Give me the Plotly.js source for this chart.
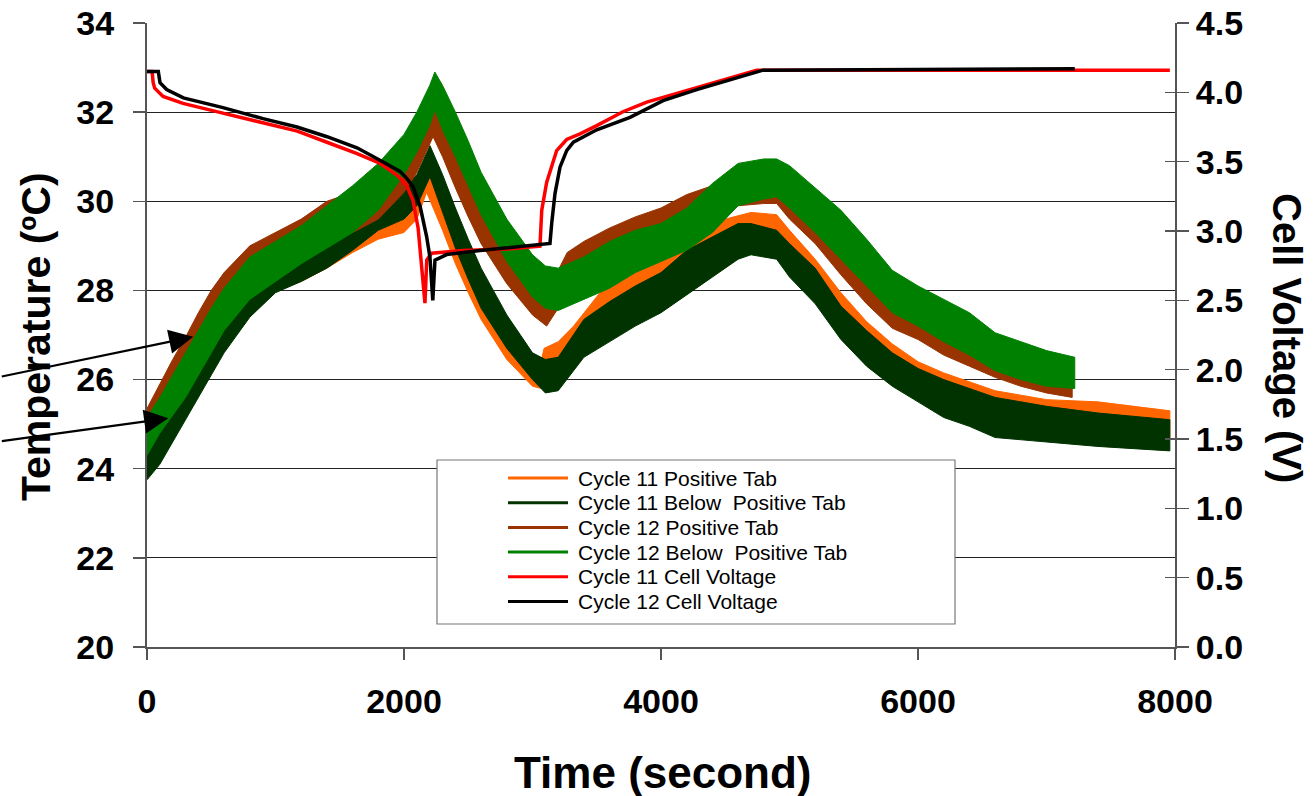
<!DOCTYPE html>
<html>
<head>
<meta charset="utf-8">
<script src="https://cdn.plot.ly/plotly-3.0.1.min.js"></script>
<style>
  html, body { margin: 0; padding: 0; background: #ffffff; }
  #chart { width: 1313px; height: 796px; }
</style>
</head>
<body>
<div id="chart"></div>
<script>
// ---- Series names ----
const seriesNames = [
  'Cycle 11 Positive Tab',
  'Cycle 11 Below  Positive Tab',
  'Cycle 12 Positive Tab',
  'Cycle 12 Below  Positive Tab',
  'Cycle 11 Cell Voltage',
  'Cycle 12 Cell Voltage'
];

// ---- Temperature traces: time (s), lower and upper edge of the noisy band (°C) ----
const c11TabTime = [0,100,200,300,400,500,600,800,1000,1200,1400,1600,1800,2000,2100,2176,2300,2400,2500,2600,2800,3000,3070,3090,3200,3320,3525,3780,4045,4300,4500,4700,4900,5000,5200,5400,5600,5800,6000,6200,6400,6600,6800,7000,7400,7960];
const c11TabLow  = [24.6,25.05,25.5,26.0,26.4,26.85,27.2,27.6,28.0,28.2,28.5,28.85,29.15,29.3,29.6,30.2,29.35,28.6,27.95,27.35,26.45,25.85,25.8,26.2,26.35,26.6,27.2,27.65,28.1,28.65,28.95,29.1,29.05,28.6,27.95,27.2,26.55,26.05,25.75,25.4,25.2,25.05,24.95,24.9,24.8,24.7];
const c11TabHigh = [25.3,25.85,26.35,26.85,27.25,27.65,27.95,28.2,28.4,28.75,29.15,29.55,29.85,29.95,30.3,30.75,30.0,29.3,28.65,28.05,27.15,26.55,26.45,26.7,26.85,27.2,27.95,28.4,28.85,29.35,29.6,29.75,29.7,29.35,28.7,27.95,27.3,26.8,26.4,26.15,25.95,25.75,25.65,25.55,25.5,25.3];

const c11BelowTime = [0,100,200,300,400,500,600,800,1000,1200,1400,1600,1800,2000,2100,2202,2300,2400,2500,2600,2800,3000,3100,3200,3400,3600,3800,4000,4200,4400,4600,4700,4900,5000,5200,5400,5600,5800,6000,6200,6400,6600,6800,7000,7400,7960];
const c11BelowLow  = [23.75,24.1,24.6,25.1,25.6,26.1,26.6,27.4,27.95,28.2,28.5,28.9,29.35,29.6,29.9,30.55,29.75,28.95,28.25,27.6,26.7,26.0,25.7,25.75,26.5,26.85,27.2,27.5,27.9,28.3,28.7,28.8,28.7,28.3,27.7,26.9,26.3,25.85,25.5,25.15,24.95,24.7,24.65,24.6,24.5,24.4];
const c11BelowHigh = [24.65,25.0,25.4,25.9,26.4,26.9,27.35,28.1,28.6,29.0,29.35,29.9,30.2,30.3,30.6,31.25,30.6,29.85,29.15,28.5,27.45,26.6,26.45,26.5,27.35,27.75,28.1,28.4,28.9,29.2,29.5,29.5,29.35,29.05,28.5,27.65,27.1,26.6,26.25,26.0,25.8,25.6,25.5,25.4,25.25,25.1];

const c12TabTime = [0,100,200,300,400,500,600,800,1000,1200,1400,1600,1800,2000,2100,2226,2300,2400,2500,2600,2800,3000,3110,3200,3270,3400,3600,3800,4000,4200,4400,4600,4800,4900,5000,5200,5400,5600,5800,6000,6200,6400,6600,6800,7000,7200];
const c12TabLow  = [24.8,25.2,25.6,26.1,26.65,27.15,27.6,28.2,28.5,28.85,29.1,29.3,29.6,30.2,30.65,31.45,31.0,30.3,29.65,29.05,28.15,27.45,27.2,27.6,28.1,28.3,28.7,28.9,29.05,29.3,29.5,29.9,29.95,29.95,29.6,29.05,28.35,27.7,27.15,26.9,26.55,26.3,26.05,25.85,25.7,25.6];
const c12TabHigh = [25.35,25.9,26.45,26.95,27.5,28.0,28.4,29.0,29.3,29.6,30.0,30.2,30.6,30.8,31.4,32.1,31.75,31.15,30.55,29.95,29.05,28.35,28.0,28.45,28.85,29.1,29.4,29.65,29.85,30.15,30.35,30.7,30.75,30.7,30.35,29.85,29.25,28.6,28.05,27.6,27.35,27.05,26.8,26.65,26.45,26.1];

const c12BelowTime = [0,100,200,300,400,500,600,800,1000,1200,1400,1600,1800,2000,2100,2200,2240,2300,2400,2500,2600,2800,3000,3100,3200,3400,3600,3800,4000,4200,4400,4600,4800,4900,5000,5200,5400,5600,5800,6000,6200,6400,6600,6800,7000,7220];
const c12BelowLow  = [24.3,24.8,25.2,25.6,26.1,26.6,27.1,27.8,28.2,28.6,28.95,29.3,29.8,30.6,31.1,31.7,32.05,31.6,31.0,30.35,29.7,28.65,27.85,27.6,27.55,27.8,28.05,28.4,28.65,28.9,29.3,29.9,30.05,30.1,29.85,29.3,28.7,28.1,27.5,27.2,26.85,26.55,26.2,26.0,25.85,25.8];
const c12BelowHigh = [25.15,25.6,26.1,26.6,27.1,27.6,28.05,28.75,29.1,29.45,29.9,30.35,30.85,31.5,32.0,32.6,32.9,32.6,32.0,31.35,30.65,29.6,28.8,28.55,28.5,28.75,29.1,29.35,29.5,29.85,30.4,30.85,30.95,30.95,30.8,30.3,29.8,29.15,28.45,28.1,27.8,27.5,27.05,26.85,26.65,26.5];

// ---- Cell voltage (V) ----
const c11VoltTime = [0,40,48,60,125,280,590,900,1170,1400,1630,1810,1950,2020,2070,2110,2138,2163,2177,2215,2460,2800,3058,3072,3110,3160,3188,3266,3370,3500,3704,3889,4148,4405,4589,4745,4850,7960];
const c11Volt     = [4.15,4.15,4.07,4.03,3.97,3.92,3.85,3.78,3.72,3.64,3.56,3.49,3.40,3.33,3.22,3.02,2.74,2.48,2.79,2.84,2.86,2.87,2.89,3.15,3.35,3.51,3.58,3.66,3.70,3.76,3.86,3.93,4.00,4.07,4.12,4.16,4.16,4.16];

const c12VoltTime = [0,88,101,153,283,591,903,1167,1401,1634,1813,1969,2021,2070,2125,2176,2202,2224,2241,2280,2332,2591,3058,3136,3150,3175,3214,3266,3318,3500,3759,4016,4278,4537,4794,7220];
const c12Volt     = [4.15,4.15,4.07,4.02,3.96,3.89,3.81,3.75,3.68,3.60,3.51,3.43,3.38,3.32,3.18,2.96,2.81,2.50,2.79,2.81,2.83,2.86,2.90,2.91,3.06,3.27,3.46,3.58,3.64,3.73,3.82,3.94,4.02,4.09,4.16,4.17];

// ---- Arrow targets (time, °C) ----
const arrowTime = [360, 166];
const arrowTemp = [26.96, 25.13];

// ---- Axis ticks ----
const tempTicks = [20, 22, 24, 26, 28, 30, 32, 34];
const voltTicks = [0, 0.5, 1.0, 1.5, 2.0, 2.5, 3.0, 3.5, 4.0, 4.5];
const timeTicks = [0, 2000, 4000, 6000, 8000];

const colors = ['#FF6600', '#003300', '#993300', '#008000', '#FF0000', '#000000'];

// A noisy temperature record is drawn as the band between its lower and upper edge
function band(t, lo, hi, color) {
  const x = t.concat(t.slice().reverse());
  const y = hi.concat(lo.slice().reverse());
  return {
    x: x, y: y, type: 'scatter', mode: 'lines', fill: 'toself',
    fillcolor: color, line: { color: color, width: 1 },
    hoverinfo: 'skip', showlegend: false, xaxis: 'x', yaxis: 'y'
  };
}

function voltLine(t, v, color) {
  return {
    x: t, y: v, type: 'scatter', mode: 'lines',
    line: { color: color, width: 3.5 },
    showlegend: false, xaxis: 'x', yaxis: 'y2'
  };
}

const traces = [
  band(c11TabTime, c11TabLow, c11TabHigh, colors[0]),
  band(c11BelowTime, c11BelowLow, c11BelowHigh, colors[1]),
  band(c12TabTime, c12TabLow, c12TabHigh, colors[2]),
  band(c12BelowTime, c12BelowLow, c12BelowHigh, colors[3]),
  voltLine(c11VoltTime, c11Volt, colors[4]),
  voltLine(c12VoltTime, c12Volt, colors[5])
];

// ---- Plot frame (pixels) ----
const W = 1313, H = 796;
const M = { l: 147, r: 138, t: 23, b: 149 };
const plotW = W - M.l - M.r, plotH = H - M.t - M.b;
const px = v => (v - M.l) / plotW;          // page x -> paper x
const py = v => (H - M.b - v) / plotH;      // page y -> paper y

const font = 'Liberation Sans, Arial, Helvetica, sans-serif';
const axisGray = '#555555';
const tickFont = { family: font, size: 34, color: '#000000', weight: 'bold' };
const titleFont = { family: font, size: 41, color: '#000000', weight: 'bold' };

// ---- Legend box, drawn inside the plot ----
const shapes = [{
  type: 'rect', xref: 'paper', yref: 'paper',
  x0: px(437), x1: px(955), y0: py(624), y1: py(460),
  fillcolor: '#ffffff', line: { color: '#777777', width: 1.2 }, layer: 'above'
}];
const annotations = [];
const rowY = [478, 502.7, 527.4, 552.1, 576.8, 601.5];
seriesNames.forEach((name, i) => {
  shapes.push({
    type: 'line', xref: 'paper', yref: 'paper',
    x0: px(508), x1: px(568), y0: py(rowY[i]), y1: py(rowY[i]),
    line: { color: colors[i], width: 3 }, layer: 'above'
  });
  annotations.push({
    xref: 'paper', yref: 'paper', x: px(576), y: py(rowY[i]),
    xanchor: 'left', yanchor: 'middle', showarrow: false,
    text: name, font: { family: font, size: 21, color: '#000000' }
  });
});

arrowTime.forEach((t, i) => {
  annotations.push({
    x: t, y: arrowTemp[i], xref: 'x', yref: 'y',
    ax: i === 0 ? -193 : -168, ay: i === 0 ? 40 : 23,
    text: '', showarrow: true, arrowhead: 2, arrowsize: 2.2,
    arrowwidth: 2.2, arrowcolor: '#000000'
  });
});

// ---- Axis titles ----
annotations.push({
  xref: 'paper', yref: 'paper', x: px(36), y: py(337),
  xanchor: 'center', yanchor: 'middle', textangle: -90, showarrow: false,
  text: 'Temperature (ºC)', font: titleFont
});
annotations.push({
  xref: 'paper', yref: 'paper', x: px(1287), y: py(338),
  xanchor: 'center', yanchor: 'middle', textangle: 90, showarrow: false,
  text: 'Cell Voltage (V)', font: { family: font, size: 40, color: '#000000', weight: 'bold' }
});
annotations.push({
  xref: 'paper', yref: 'paper', x: px(662), y: py(772),
  xanchor: 'center', yanchor: 'middle', showarrow: false,
  text: 'Time (second)', font: { family: font, size: 44, color: '#000000', weight: 'bold' }
});

const layout = {
  width: W, height: H,
  margin: M,
  paper_bgcolor: '#ffffff', plot_bgcolor: '#ffffff',
  showlegend: false,
  xaxis: {
    range: [0, 8000], tickvals: timeTicks, ticktext: timeTicks.map(String),
    ticks: 'outside', ticklen: 11, tickwidth: 1.5, tickcolor: axisGray,
    showline: true, linecolor: axisGray, linewidth: 2,
    showgrid: false, zeroline: false,
    ticklabelstandoff: 12,
    tickfont: tickFont
  },
  yaxis: {
    range: [20, 34], tickvals: tempTicks, ticktext: tempTicks.map(String),
    ticks: 'outside', ticklen: 12, tickwidth: 1.5, tickcolor: axisGray,
    showline: true, linecolor: axisGray, linewidth: 2,
    showgrid: true, gridcolor: '#222222', gridwidth: 1,
    zeroline: false,
    ticklabelstandoff: 12,
    tickfont: tickFont
  },
  yaxis2: {
    range: [0, 4.5], tickvals: voltTicks, ticktext: voltTicks.map(v => v.toFixed(1)),
    overlaying: 'y', side: 'right', anchor: 'x',
    ticks: 'outside', ticklen: 12, tickwidth: 1.5, tickcolor: axisGray,
    showline: true, linecolor: axisGray, linewidth: 2,
    showgrid: false, zeroline: false,
    tickfont: tickFont
  },
  yaxis3: {
    range: [0, 4.5], tickvals: voltTicks, overlaying: 'y', side: 'right', anchor: 'x',
    ticks: 'inside', ticklen: 10, tickwidth: 1.5, tickcolor: axisGray,
    showticklabels: false, showline: false, showgrid: false, zeroline: false
  },
  shapes: shapes,
  annotations: annotations
};

// keeps the inside-tick axis on the page
traces.push({ x: [], y: [], type: 'scatter', xaxis: 'x', yaxis: 'y3', showlegend: false, hoverinfo: 'skip' });

Plotly.newPlot('chart', traces, layout, { staticPlot: true, displayModeBar: false });
</script>
</body>
</html>
